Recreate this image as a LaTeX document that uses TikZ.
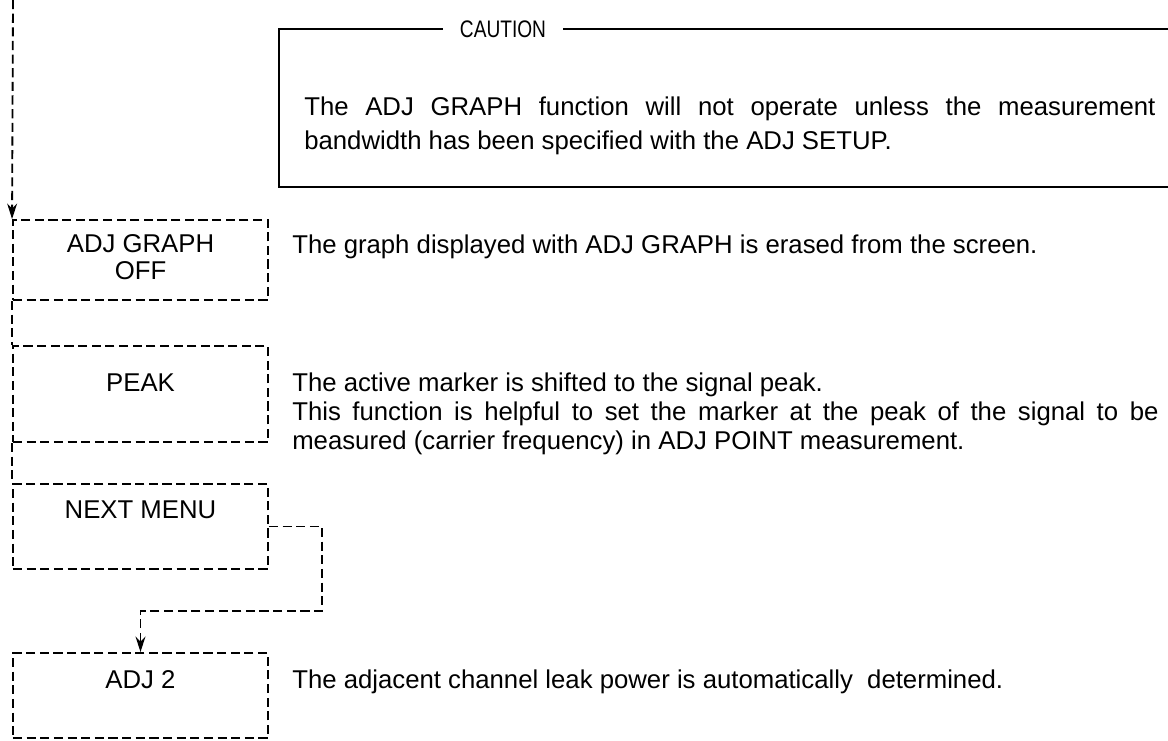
\documentclass[tikz,border=0pt]{standalone}
\usepackage{fontspec}
\setmainfont{Liberation Sans}
\newfontfamily\narrowfont[FakeStretch=0.8]{Liberation Sans}
\usetikzlibrary{arrows.meta}
\begin{document}
\begin{tikzpicture}[x=0.025cm,y=-0.025cm,
  flow/.style={line width=1.3pt,dash pattern=on 6.5pt off 3.2pt},
  keybox/.style={flow,draw,minimum width=6.375cm,inner sep=0pt},
  keytext/.style={font=\fontsize{18.3}{18.5}\selectfont,align=center,anchor=base,inner sep=0pt},
  desc/.style={font=\fontsize{18.3}{20.6}\selectfont,anchor=base west,inner sep=0pt,align=left},
  cautiontext/.style={font=\fontsize{18.3}{24.5}\selectfont,anchor=base west,inner sep=0pt,align=left},
  tip/.style={-{Stealth[length=11pt,width=7pt]}}]
\useasboundingbox (0,0) rectangle (1168,741);

% caution box
\coordinate (ctl) at (279,29);
\coordinate (cbl) at (279,187);
\coordinate (cbr) at (1168,187);
\coordinate (ctr) at (1168,29);
\draw[line width=0.8pt] (ctr) -- (ctl) -- (cbl) -- (cbr);
\node[fill=white,inner xsep=12pt,inner ysep=2pt,font=\narrowfont\fontsize{17}{20}\selectfont] (caution) at (503,29) {CAUTION};
\node[cautiontext] (ctext) at (304,150) {\makebox[21.275cm][s]{The ADJ GRAPH function will not operate unless the measurement}\\bandwidth has been specified with the ADJ SETUP.};

% key boxes
\node[keybox,minimum height=2cm] (b1) at (140.5,260) {};
\node[keybox,minimum height=2.4cm] (b2) at (140.5,394) {};
\node[keybox,minimum height=2.125cm] (b3) at (140.5,526.5) {};
\node[keybox,minimum height=2.125cm] (b4) at (140.5,695.5) {};

\node[keytext] (t1) at (140.5,279) {ADJ GRAPH\\OFF};
\node[keytext] (t2) at (140.5,391) {PEAK};
\node[keytext] (t3) at (140.5,518) {NEXT MENU};
\node[keytext] (t4) at (140.5,688) {ADJ 2};

% descriptions
\node[desc] (d1) at (292,253) {The graph displayed with ADJ GRAPH is erased from the screen.};
\node[desc] (d2) at (292,449) {The active marker is shifted to the signal peak.\\\makebox[21.65cm][s]{This function is helpful to set the marker at the peak of the signal to be}\\measured (carrier frequency) in ADJ POINT measurement.};
\node[desc] (d4) at (292,688) {The adjacent channel leak power is automatically\ \ determined.};

% flow lines
\coordinate (start) at (13,0);
\draw[flow,tip] (start) -- (b1.north west);
\draw[flow] (b1.south west) -- (b2.north west);
\draw[flow] (b2.south west) -- (b3.north west);
\coordinate (bend) at (322,611);
\draw[flow,tip] (b3.east) -| (bend) -| (b4.north);
\end{tikzpicture}
\end{document}
